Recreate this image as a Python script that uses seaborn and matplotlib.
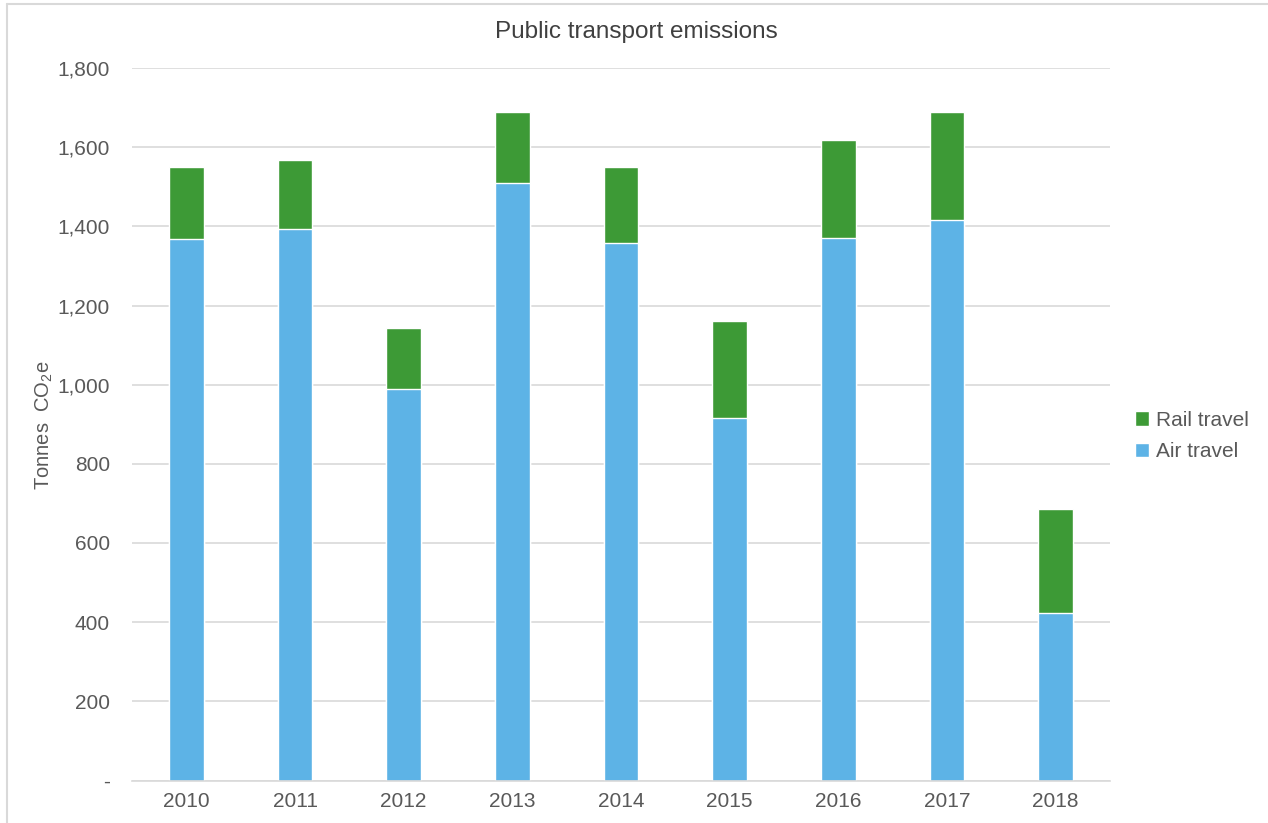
import pandas as pd
import matplotlib
matplotlib.use("Agg")
import matplotlib.pyplot as plt
import matplotlib.ticker as mticker
from matplotlib.patches import Patch
from matplotlib.lines import Line2D
import seaborn as sns

# Data
years = ["2010", "2011", "2012", "2013", "2014", "2015", "2016", "2017", "2018"]
air_travel = [1367, 1393, 988, 1509, 1358, 916, 1371, 1417, 424]
rail_travel = [184, 175, 156, 180, 193, 246, 246, 272, 262]

blue = "#5DB3E6"
green = "#3D9A36"
text_grey = "#595959"
grid_grey = "#D9D9D9"

sns.set_theme(style="white")
plt.rcParams["font.family"] = ["Liberation Sans", "DejaVu Sans"]
plt.rcParams["mathtext.fontset"] = "custom"
plt.rcParams["mathtext.rm"] = "Liberation Sans"
plt.rcParams["mathtext.it"] = "Liberation Sans"

df = pd.DataFrame({"Year": years, "Air travel": air_travel, "Rail travel": rail_travel})
df["Total"] = df["Air travel"] + df["Rail travel"]

fig = plt.figure(figsize=(12.68, 8.23), dpi=100)
ax = fig.add_axes([132 / 1268, 1 - 780.5 / 823, (1110 - 132) / 1268, (780.5 - 68) / 823])

# Stacked bars: total (rail on top) first, air travel drawn over it
sns.barplot(data=df, x="Year", y="Total", color=green, width=0.32, saturation=1, ax=ax)
sns.barplot(data=df, x="Year", y="Air travel", color=blue, width=0.32, saturation=1, ax=ax)

ax.set_ylim(0, 1800)
ax.set_xlim(-0.5, len(years) - 0.5)
ax.yaxis.set_major_locator(mticker.MultipleLocator(200))
ax.yaxis.set_major_formatter(
    mticker.FuncFormatter(lambda v, p: "-" if v == 0 else f"{int(v):,}")
)
ax.grid(axis="y", color=grid_grey, linewidth=1.2)
ax.set_axisbelow(True)
for side in ["top", "right", "left"]:
    ax.spines[side].set_visible(False)
ax.spines["bottom"].set_color(grid_grey)
ax.spines["bottom"].set_linewidth(1.2)
ax.tick_params(axis="both", length=0, labelsize=15, labelcolor=text_grey)
ax.tick_params(axis="y", pad=16)
ax.tick_params(axis="x", pad=8)

ax.set_xlabel("")
ax.set_ylabel("")
fig.text(44 / 1268, 1 - 425 / 823, "Tonnes  CO$_{2}$e", rotation=90,
         ha="center", va="center", fontsize=14.5, color=text_grey)
fig.text(636 / 1268, 1 - 32 / 823, "Public transport emissions",
         ha="center", va="center", fontsize=17.5, color="#404040")

handles = [Patch(facecolor=green, label="Rail travel"),
           Patch(facecolor=blue, label="Air travel")]
fig.legend(handles=handles, loc="center left", bbox_to_anchor=(1116 / 1268, 1 - 436 / 823),
           frameon=False, fontsize=15, labelcolor=text_grey, handlelength=0.7,
           handleheight=0.7, handletextpad=0.3, labelspacing=0.6)

# light chart frame on the left and top edges
fig.add_artist(Line2D([6.5 / 1268, 6.5 / 1268], [0, 1 - 4 / 823], color=grid_grey, linewidth=1.5))
fig.add_artist(Line2D([6.5 / 1268, 1], [1 - 4 / 823, 1 - 4 / 823], color=grid_grey, linewidth=1.5))

fig.savefig("out.png", dpi=100)
